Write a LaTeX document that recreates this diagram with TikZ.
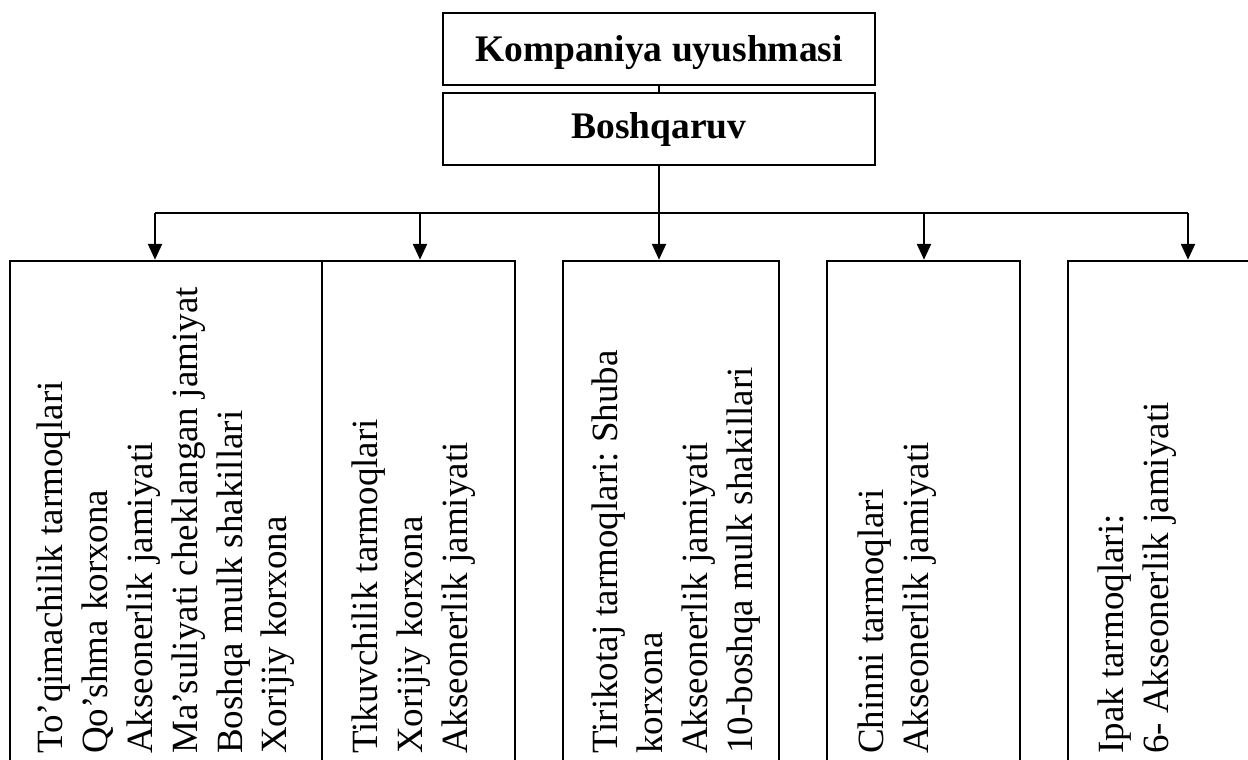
\documentclass[tikz,border=0pt]{standalone}
\usepackage{fontspec}
\setmainfont{Liberation Serif}
\usetikzlibrary{arrows.meta}
\begin{document}
\frenchspacing
\begin{tikzpicture}[x=1pt,y=-1pt,
  line/.style={line width=2.5pt},
  arr/.style={line width=2.5pt,-{Triangle[length=16pt,width=14pt]}},
  topbox/.style={draw,line width=2.5pt,minimum width=432pt,minimum height=72pt,inner sep=0pt,font=\fontsize{37.5}{45}\selectfont\bfseries},
  unit/.style={draw,line width=2.5pt,minimum height=540pt,inner sep=0pt},
  vtext/.style={rotate=90,anchor=base west,text width=700pt,align=flush left,inner sep=0pt,font=\fontsize{37}{45}\selectfont\frenchspacing}]
\useasboundingbox (0,0) rectangle (1248,760);
\fill[white] (0,0) rectangle (1248,760);
% top boxes
\node[topbox,text height=26pt,text depth=0pt] (komp) at (659,49) {Kompaniya uyushmasi};
\node[topbox] (bosh) at (659,129) {Boshqaruv};
\draw[line] (komp.south) -- (bosh.north);
% unit boxes
\node[unit,minimum width=312pt] (ua) at (166,531) {};
\node[unit,minimum width=193pt] (ub) at (418.5,531) {};
\node[unit,minimum width=216pt] (uc) at (671,531) {};
\node[unit,minimum width=193pt] (ud) at (923.5,531) {};
\node[unit,minimum width=240pt] (ue) at (1188,531) {};
% connectors
\coordinate (j1) at (155,213);
\coordinate (j2) at (420,213);
\coordinate (j3) at (659,213);
\coordinate (j4) at (924,213);
\coordinate (j5) at (1188,213);
\draw[line] (bosh.south) -- (j3);
\draw[line] (j1) -- (j5);
\draw[arr] (j1) -- (j1 |- ua.north);
\draw[arr] (j2) -- (j2 |- ub.north);
\draw[arr] (j3) -- (j3 |- uc.north);
\draw[arr] (j4) -- (j4 |- ud.north);
\draw[arr] (j5) -- (j5 |- ue.north);
% texts
\node[vtext] (ta) at (62,754) {To’qimachilik tarmoqlari\\Qo’shma korxona\\Akseonerlik jamiyati\\Ma’suliyati cheklangan jamiyat\\Boshqa mulk shakillari\\Xorijiy korxona};
\node[vtext] (tb) at (377,754) {Tikuvchilik tarmoqlari\\Xorijiy korxona\\Akseonerlik jamiyati};
\node[vtext] (tc) at (617,754) {Tirikotaj tarmoqlari: Shuba\\korxona\\Akseonerlik jamiyati\\10-boshqa mulk shakillari};
\node[vtext] (td) at (883,754) {Chinni tarmoqlari\\Akseonerlik jamiyati};
\node[vtext] (te) at (1123,754) {Ipak tarmoqlari:\\6- Akseonerlik jamiyati};
\end{tikzpicture}
\end{document}
